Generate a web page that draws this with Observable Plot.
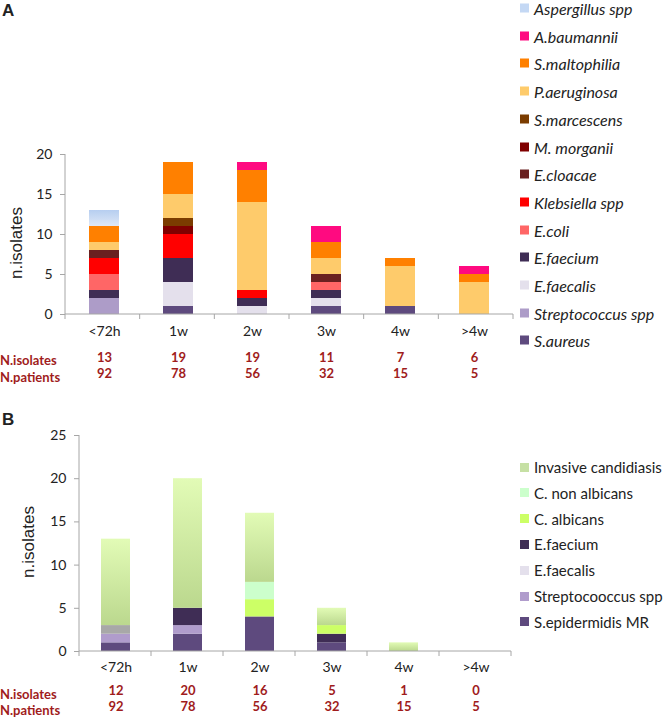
<!DOCTYPE html>
<html><head><meta charset="utf-8">
<script src="https://cdn.jsdelivr.net/npm/d3@7"></script>
<script src="https://cdn.jsdelivr.net/npm/@observablehq/plot@0.6"></script>
<style>
body{margin:0;background:#fff;}
#root{position:relative;width:666px;height:719px;overflow:hidden;font-family:Lato, sans-serif;color:#222;}
.abs{position:absolute;white-space:nowrap;}
.plot{position:absolute;left:0;}
g[aria-label="y-axis tick"]{stroke:#a6a6a6;}
.ylab{position:absolute;font-family:"Liberation Sans",Arial,sans-serif;font-size:17px;transform:translate(-50%,-50%) rotate(-90deg);white-space:nowrap;}
.letter{position:absolute;font-family:"Liberation Sans",Arial,sans-serif;font-weight:bold;font-size:17px;}
.rowlab{position:absolute;left:0;font-weight:bold;font-size:13px;color:#a01c1c;transform:translateY(-50%);}
.leg{position:absolute;left:520px;font-size:15px;transform:translateY(-50%);display:flex;align-items:center;white-space:nowrap;}
.leg span.sw{display:inline-block;width:9px;height:9px;margin-right:5px;}
</style></head>
<body><div id="root"></div>
<script>
// ---------- Data ----------
const categories = ["<72h", "1w", "2w", "3w", "4w", ">4w"];

// Panel A (bottom to top)
const speciesA = ["S.aureus","Streptococcus spp","E.faecalis","E.faecium","E.coli","Klebsiella spp","E.cloacae","M. morganii","S.marcescens","P.aeruginosa","S.maltophilia","A.baumannii","Aspergillus spp"];
const valuesA = [
  [0,1,0,1,1,0],   // S.aureus
  [2,0,0,0,0,0],   // Streptococcus spp
  [0,3,1,1,0,0],   // E.faecalis
  [1,3,1,1,0,0],   // E.faecium
  [2,0,0,1,0,0],   // E.coli
  [2,3,1,0,0,0],   // Klebsiella spp
  [1,0,0,1,0,0],   // E.cloacae
  [0,1,0,0,0,0],   // M. morganii
  [0,1,0,0,0,0],   // S.marcescens
  [1,3,11,2,5,4],  // P.aeruginosa
  [2,4,4,2,1,1],   // S.maltophilia
  [0,0,1,2,0,1],   // A.baumannii
  [2,0,0,0,0,0]    // Aspergillus spp
];
const colorsA = ["#5e4a7e","#ad9cc8","#e4e0ec","#3f2d55","#ff6666","#ff0000","#6a2020","#800000","#7b3c00","#fecb6b","#ff8000","#ff0a80","url(#gradAsp)"];
const legendColorsA = ["#5e4a7e","#ad9cc8","#e4e0ec","#3f2d55","#ff6666","#ff0000","#6a2020","#800000","#7b3c00","#fecb6b","#ff8000","#ff0a80","#c4d8f4"];
const nIsolatesA = [13,19,19,11,7,6];
const nPatientsA = [92,78,56,32,15,5];

// Panel B (bottom to top)
const speciesB = ["S.epidermidis MR","Streptocooccus spp","E.faecalis","Other","E.faecium","C. albicans","C. non albicans","Invasive candidiasis"];
const valuesB = [
  [1,2,4,1,0,0],   // S.epidermidis MR
  [1,1,0,0,0,0],   // Streptocooccus spp
  [0,0,0,0,0,0],   // E.faecalis
  [1,0,0,0,0,0],   // unlabeled grey segment
  [0,2,0,1,0,0],   // E.faecium
  [0,0,2,1,0,0],   // C. albicans
  [0,0,2,0,0,0],   // C. non albicans
  [10,15,8,2,1,0]  // Invasive candidiasis
];
const colorsB = ["#5e4a7e","#b09ccc","#e4e0ec","#a8a8a8","#3f2d55","#ccff66","#ccffcc","url(#gradInv)"];
const legendColorsB = ["#5e4a7e","#b09ccc","#e4e0ec","#a8a8a8","#3f2d55","#ccff66","#ccffcc","#c6e0a4"];
const legendB = ["Invasive candidiasis","C. non albicans","C. albicans","E.faecium","E.faecalis","Streptocooccus spp","S.epidermidis MR"];
const nIsolatesB = [12,20,16,5,1,0];
const nPatientsB = [92,78,56,32,15,5];

// ---------- Helpers ----------
const root = document.getElementById("root");
function rows(species, values) {
  return species.flatMap((s, si) => categories.map((c, ci) => ({cat: c, species: s, value: values[si][ci]}))).filter(d => d.value > 0);
}
function gradientDefs(id, top, bottom) {
  return () => {
    const defs = d3.create("svg:defs");
    const lg = defs.append("linearGradient").attr("id", id).attr("x1", 0).attr("y1", 0).attr("x2", 0).attr("y2", 1);
    lg.append("stop").attr("offset", "0%").attr("stop-color", top);
    lg.append("stop").attr("offset", "100%").attr("stop-color", bottom);
    return defs.node();
  };
}
function axisFrame(ymax) {
  return (index, scales, values, dim) => {
    const g = d3.create("svg:g").attr("stroke", "#a6a6a6").attr("fill", "none");
    const x0 = dim.marginLeft, x1 = dim.width - dim.marginRight, y0 = dim.height - dim.marginBottom;
    g.append("line").attr("x1", x0).attr("x2", x0).attr("y1", scales.y(ymax)).attr("y2", y0);
    g.append("line").attr("x1", x0).attr("x2", x1).attr("y1", y0).attr("y2", y0);
    const n = categories.length, step = (x1 - x0) / n;
    for (let i = 0; i <= n; i++) {
      g.append("line").attr("x1", x0 + i * step).attr("x2", x0 + i * step).attr("y1", y0).attr("y2", y0 + 5);
    }
    return g.node();
  };
}
function panel(opts) {
  const data = rows(opts.species, opts.values);
  const table = categories.map((c, i) => ({cat: c, iso: opts.iso[i], pat: opts.pat[i]}));
  const p = Plot.plot({
    width: 520, height: opts.height,
    marginTop: opts.mt, marginBottom: opts.mb, marginLeft: opts.ml, marginRight: opts.mr,
    style: {fontFamily: "Lato, sans-serif", fontSize: "14px", color: "#222", background: "transparent", overflow: "visible"},
    x: {domain: categories, paddingInner: 0.6, paddingOuter: 0.3, label: null},
    y: {domain: [0, opts.ymax], label: null},
    color: {type: "ordinal", domain: opts.species, range: opts.colors},
    marks: [
      gradientDefs(opts.gradId, opts.gradTop, opts.gradBottom),
      Plot.barY(data, {x: "cat", y: "value", fill: "species", order: opts.species}),
      axisFrame(opts.ymax),
      Plot.axisX({tickSize: 0, tickPadding: opts.xpad}),
      Plot.axisY({ticks: d3.range(0, opts.ymax + 1, 5), tickSize: 5, tickPadding: 8}),
      Plot.text(table, {x: "cat", text: "iso", frameAnchor: "bottom", dy: opts.isoDy, fill: "#a01c1c", fontWeight: "bold", fontSize: 13}),
      Plot.text(table, {x: "cat", text: "pat", frameAnchor: "bottom", dy: opts.patDy, fill: "#a01c1c", fontWeight: "bold", fontSize: 13})
    ]
  });
  p.classList.add("plot");
  p.style.top = opts.top + "px";
  root.appendChild(p);
}
function addDiv(cls, text, style) {
  const d = document.createElement("div");
  d.className = cls;
  d.textContent = text;
  Object.assign(d.style, style);
  root.appendChild(d);
  return d;
}
function legend(names, colorsFor, y0, dy, italic, size) {
  names.forEach((name, i) => {
    const d = document.createElement("div");
    d.className = "leg";
    d.style.top = (y0 + i * dy) + "px";
    d.style.fontSize = size + "px";
    if (italic) d.style.fontStyle = "italic";
    const sw = document.createElement("span");
    sw.className = "sw";
    sw.style.background = colorsFor(name);
    d.appendChild(sw);
    d.appendChild(document.createTextNode(name));
    root.appendChild(d);
  });
}

// ---------- Panel A ----------
panel({species: speciesA, values: valuesA, colors: colorsA, iso: nIsolatesA, pat: nPatientsA,
  top: 0, height: 390, mt: 154, mb: 76, ml: 65, mr: 7, ymax: 20, xpad: 12, isoDy: 47, patDy: 63,
  gradId: "gradAsp", gradTop: "#b6cef0", gradBottom: "#dfe8f6"});
addDiv("letter", "A", {left: "2px", top: "1px"});
addDiv("ylab", "n.isolates", {left: "17px", top: "243px"});
addDiv("rowlab", "N.isolates", {top: "360px"});
addDiv("rowlab", "N.patients", {top: "377px"});
legend(speciesA.slice().reverse(), n => legendColorsA[speciesA.indexOf(n)], 8, 27.7, true, 16);

// ---------- Panel B ----------
panel({species: speciesB, values: valuesB, colors: colorsB, iso: nIsolatesB, pat: nPatientsB,
  top: 390, height: 329, mt: 45, mb: 68, ml: 79, mr: 9, ymax: 25, xpad: 11, isoDy: 43, patDy: 59,
  gradId: "gradInv", gradTop: "#e2fbb6", gradBottom: "#bbd88e"});
addDiv("letter", "B", {left: "2px", top: "410px"});
addDiv("ylab", "n.isolates", {left: "29px", top: "542px"});
addDiv("rowlab", "N.isolates", {top: "694px"});
addDiv("rowlab", "N.patients", {top: "710px"});
legend(legendB, n => legendColorsB[speciesB.indexOf(n)], 467, 25.8, false, 15);
</script>
</body></html>
